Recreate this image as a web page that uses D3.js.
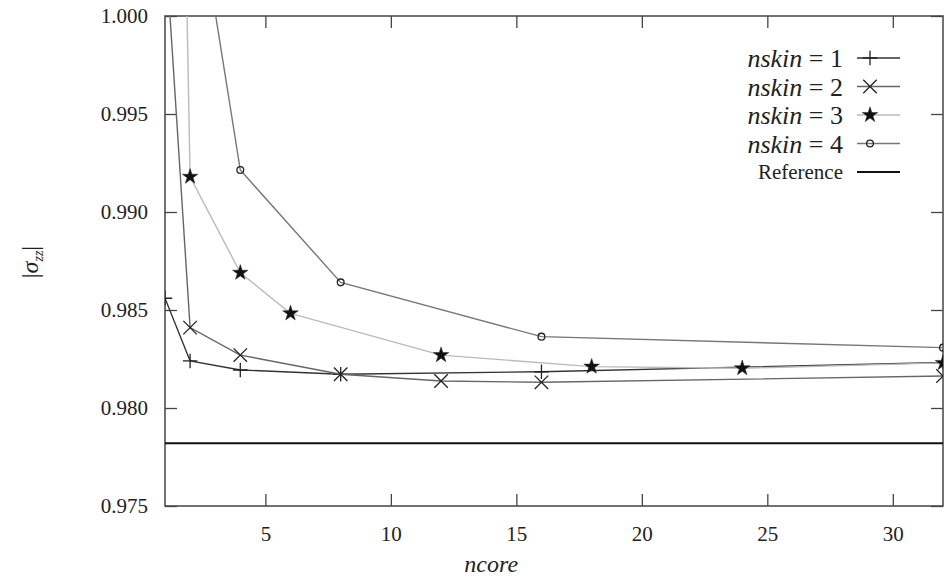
<!DOCTYPE html>
<html>
<head>
<meta charset="utf-8">
<script src="https://cdn.jsdelivr.net/npm/d3@7"></script>
<style>
  body { margin: 0; background: #fff; }
  svg, svg text { font-family: "Liberation Serif", "Times New Roman", "DejaVu Serif", "Nimbus Roman", serif !important; }
</style>
</head>
<body>
<div id="my_dataviz"></div>
<script>
// data
const xTicks = [5, 10, 15, 20, 25, 30];
const yTicks = [0.975, 0.980, 0.985, 0.990, 0.995, 1.000];

const ncore_1 = [1, 2, 4, 8, 16, 32];
const sigma_1 = [0.98560, 0.98240, 0.98194, 0.98172, 0.98185, 0.98232];

const ncore_2 = [1, 2, 4, 8, 12, 16, 32];
const sigma_2 = [1.00398, 0.98410, 0.98270, 0.98172, 0.98138, 0.98131, 0.98163];

const ncore_3 = [1, 2, 4, 6, 12, 18, 24, 32];
const sigma_3 = [1.06, 0.99180, 0.98690, 0.98483, 0.98270, 0.98211, 0.98203, 0.98230];

const ncore_4 = [2, 4, 8, 16, 32];
const sigma_4 = [1.0082, 0.99214, 0.98641, 0.98364, 0.98308];

const reference = 0.97820;

const seriesNames = ["nskin = 1", "nskin = 2", "nskin = 3", "nskin = 4"];

// set the dimensions and margins of the graph
const margin = {top: 16, right: 6, bottom: 72, left: 165};
const width = 943 - margin.left;
const height = 506 - margin.top;
const serif = "Liberation Serif";

const svg = d3.select("#my_dataviz")
  .append("svg")
    .attr("width", 949)
    .attr("height", 578)
    .attr("font-family", serif)
  .append("g")
    .attr("transform", `translate(${margin.left}, ${margin.top})`);

const x = d3.scaleLinear().domain([1, 32]).range([0, width]);
const y = d3.scaleLinear().domain([0.975, 1.000]).range([height, 0]);

svg.append("clipPath").attr("id", "clip")
  .append("rect").attr("width", width).attr("height", height);

// ticks, inward on all four sides
const tickLen = 12;
svg.append("g")
  .attr("transform", `translate(0, ${height})`)
  .call(d3.axisBottom(x).tickValues(xTicks).tickSizeInner(-tickLen).tickSizeOuter(0).tickPadding(20))
  .call(g => g.select(".domain").remove());
svg.append("g")
  .call(d3.axisTop(x).tickValues(xTicks).tickSizeInner(-tickLen).tickSizeOuter(0).tickFormat(""))
  .call(g => g.select(".domain").remove());
svg.append("g")
  .call(d3.axisLeft(y).tickValues(yTicks).tickSizeInner(-tickLen).tickSizeOuter(0).tickPadding(17).tickFormat(d3.format(".3f")))
  .call(g => g.select(".domain").remove());
svg.append("g")
  .attr("transform", `translate(${width}, 0)`)
  .call(d3.axisRight(y).tickValues(yTicks).tickSizeInner(-tickLen).tickSizeOuter(0).tickFormat(""))
  .call(g => g.select(".domain").remove());

svg.selectAll("g").attr("font-family", serif);
svg.selectAll(".tick line").attr("stroke", "#444").attr("stroke-width", 1.3);
svg.selectAll(".tick text")
  .attr("font-family", serif)
  .style("font-size", "21px")
  .attr("fill", "#222");

// frame
svg.append("rect")
  .attr("width", width).attr("height", height)
  .attr("fill", "none").attr("stroke", "#444").attr("stroke-width", 1.5);

const series = [
  {name: seriesNames[0], xs: ncore_1, ys: sigma_1, color: "#333333", symbol: d3.symbolPlus, size: 70, fill: false},
  {name: seriesNames[1], xs: ncore_2, ys: sigma_2, color: "#666666", symbol: d3.symbolTimes, size: 120, fill: false},
  {name: seriesNames[2], xs: ncore_3, ys: sigma_3, color: "#bbbbbb", symbol: d3.symbolStar, size: 75, fill: true},
  {name: seriesNames[3], xs: ncore_4, ys: sigma_4, color: "#777777", symbol: d3.symbolCircle, size: 36, fill: false}
];

const line = d3.line()
  .x(d => x(d[0]))
  .y(d => y(d[1]));

const plot = svg.append("g").attr("clip-path", "url(#clip)");

// reference line
plot.append("line")
  .attr("x1", 0).attr("x2", width)
  .attr("y1", y(reference)).attr("y2", y(reference))
  .attr("stroke", "#111").attr("stroke-width", 2);

series.forEach(s => {
  const pts = s.xs.map((v, i) => [v, s.ys[i]]);
  plot.append("path")
    .attr("d", line(pts))
    .attr("fill", "none")
    .attr("stroke", s.color)
    .attr("stroke-width", 1.4);
  plot.selectAll(null)
    .data(pts)
    .join("path")
      .attr("transform", d => `translate(${x(d[0])}, ${y(d[1])})`)
      .attr("d", d3.symbol().type(s.symbol).size(s.size))
      .attr("fill", s.fill ? "#111" : "none")
      .attr("stroke", "#222")
      .attr("stroke-width", s.fill ? 0.5 : 1.3);
});

// legend
const legend = svg.append("g").attr("transform", `translate(${843 - margin.left}, ${58 - margin.top})`);
const rowH = 28.5;
series.forEach((s, i) => {
  const row = legend.append("g").attr("transform", `translate(0, ${i * rowH})`);
  const txt = row.append("text")
    .attr("text-anchor", "end")
    .attr("dy", "0.35em")
    .attr("font-family", serif)
    .style("font-size", "26px")
    .attr("fill", "#222");
  txt.append("tspan").style("font-style", "italic").text("nskin");
  txt.append("tspan").text(" = " + (i + 1));
  row.append("line")
    .attr("x1", 14).attr("x2", 57).attr("y1", 0).attr("y2", 0)
    .attr("stroke", s.color).attr("stroke-width", 1.4);
  row.append("path")
    .attr("transform", "translate(27, 0)")
    .attr("d", d3.symbol().type(s.symbol).size(s.size))
    .attr("fill", s.fill ? "#111" : "none")
    .attr("stroke", "#222")
    .attr("stroke-width", s.fill ? 0.5 : 1.3);
});
const refRow = legend.append("g").attr("transform", `translate(0, ${4 * rowH})`);
refRow.append("text")
  .attr("text-anchor", "end")
  .attr("dy", "0.35em")
  .attr("font-family", serif)
  .style("font-size", "21px")
  .attr("fill", "#222")
  .text("Reference");
refRow.append("line")
  .attr("x1", 14).attr("x2", 57).attr("y1", 0).attr("y2", 0)
  .attr("stroke", "#111").attr("stroke-width", 2);

// text label for the x axis
svg.append("text")
  .attr("x", x(15) - 52)
  .attr("y", height + 66)
  .attr("font-family", serif)
  .style("text-anchor", "start")
  .style("font-size", "24px")
  .style("font-style", "italic")
  .attr("fill", "#222")
  .text("ncore");

// text label for the y axis
const ylab = svg.append("text")
  .attr("transform", `translate(${-127}, ${262 - margin.top}) rotate(-90)`)
  .attr("font-family", serif)
  .style("text-anchor", "middle")
  .style("font-size", "24px")
  .attr("fill", "#222");
ylab.append("tspan").text("|");
ylab.append("tspan").style("font-style", "italic").text("σ");
ylab.append("tspan").attr("dy", 5).style("font-size", "14px").style("font-style", "italic").text("zz");
ylab.append("tspan").attr("dy", -5).text("|");
</script>
</body>
</html>
